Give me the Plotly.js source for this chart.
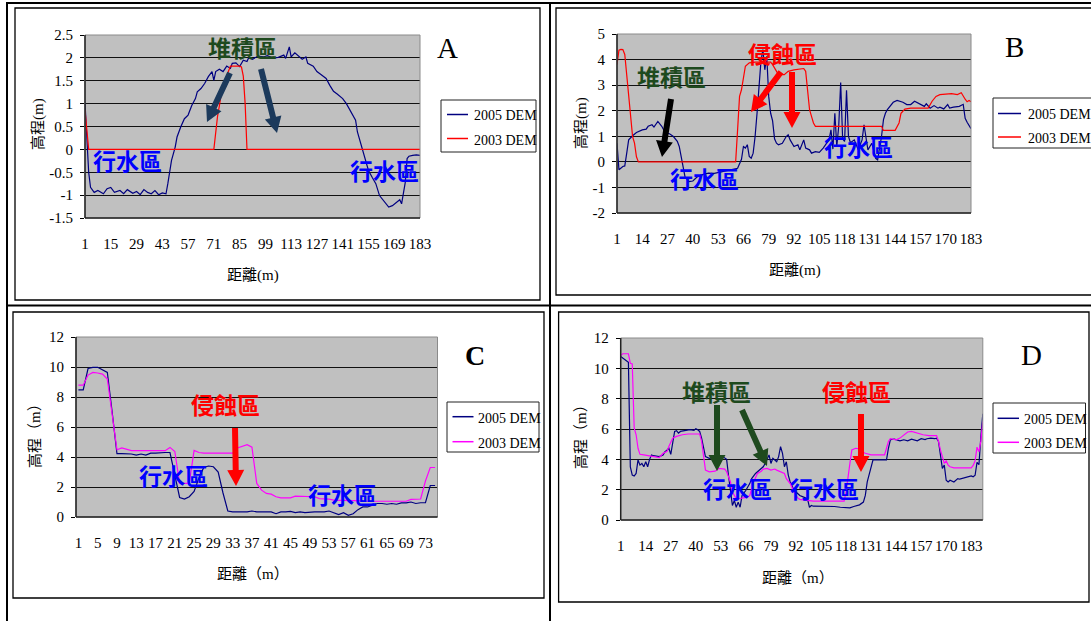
<!DOCTYPE html>
<html><head><meta charset="utf-8">
<script src="https://cdn.plot.ly/plotly-3.0.1.min.js"></script>
<style>html,body{margin:0;padding:0;background:#fff;}#chart{width:1091px;height:621px;}</style>
</head><body><div id="chart"></div>
<script>
// ---------- DATA ----------
const seriesNames = ["2005 DEM", "2003 DEM"];

// Panel A
const A_ticks = [1,15,29,43,57,71,85,99,113,127,141,155,169,183];
const A_yticks = [-1.5,-1,-0.5,0,0.5,1,1.5,2,2.5];
const A_x2005 = [1,2,3,4,6,8,11,13,15,17,20,22,24,27,29,31,33,35,37,39,41,43,45,46,47,48,50,51,53,55,57,59,61,62,64,66,68,70,71,72,74,76,78,80,81,83,85,87,89,90,92,95,98,100,103,106,109,110,112,113,115,117,119,121,122,125,127,129,132,134,136,138,141,143,145,148,149,151,153,155,157,159,161,163,166,168,171,172,173,175,176,177,179,181,183];
const A_y2005 = [1.02,0.3,-0.5,-0.83,-0.94,-0.9,-0.97,-0.86,-0.83,-0.94,-0.9,-0.97,-0.88,-0.96,-0.92,-0.99,-0.88,-0.94,-0.97,-0.9,-0.99,-0.95,-0.97,-0.75,-0.53,-0.24,0.05,0.27,0.49,0.67,0.75,0.96,1.11,1.26,1.33,1.44,1.59,1.70,1.51,1.70,1.75,1.70,1.82,1.77,1.88,1.89,1.81,1.95,1.92,2.01,1.97,2.04,2.02,2.05,2.0,2.01,2.06,1.99,2.24,2.02,2.11,2.04,1.97,2.02,1.88,1.82,1.70,1.64,1.55,1.40,1.27,1.21,1.11,1.0,0.86,0.64,0.38,0.09,-0.2,-0.46,-0.61,-0.75,-1.01,-1.12,-1.26,-1.23,-1.12,-1.1,-1.19,-0.72,-0.2,-0.15,-0.13,-0.12,-0.13];
const A_x2003 = [1,2,3,71,72,73,74,75,77,79,80,85,86,87,88,89,183];
const A_y2003 = [0.86,0.4,0,0,0.42,0.72,0.95,1.2,1.5,1.73,1.82,1.82,1.8,1.6,1.0,0,0];

// Panel B
const B_ticks = [1,14,27,40,53,66,79,92,105,118,131,144,157,170,183];
const B_yticks = [-2,-1,0,1,2,3,4,5];
const B_x2005 = [1,2,4,5,6,7,9,11,14,16,17,19,20,21,22,24,25,27,28,30,32,33,34,35,36,38,40,42,45,48,51,54,57,60,63,65,66,67,68,69,70,71,72,73,74,75,76,77,78,79,80,81,82,83,84,86,88,89,90,92,94,95,97,98,100,101,103,105,107,109,110,111,112,113,114,115,116,117,118,119,120,121,122,123,125,127,128,129,130,132,134,135,136,137,138,139,140,142,143,145,147,148,150,152,154,155,157,159,160,162,164,166,167,169,171,172,174,177,179,180,181,182,183];
const B_y2005 = [0.73,-0.31,-0.18,-0.16,0.34,0.86,1.02,1.15,1.25,1.28,1.39,1.45,1.36,1.45,1.58,1.39,1.25,1.12,1.1,0.99,0.8,0.6,0.21,-0.31,-0.6,-0.77,-0.75,-0.6,-0.5,-0.44,-0.45,-0.4,-0.35,-0.31,-0.25,0.1,0.6,0.54,0.67,0.21,0.14,0.34,0.99,1.9,3.08,3.93,4.39,3.6,4.13,2.56,1.9,1.6,0.9,0.73,0.67,0.73,0.99,1.06,0.86,0.6,0.67,0.47,0.86,0.54,0.47,0.34,0.4,0.37,0.54,0.73,0.86,1.25,0.5,1.9,0.6,1.4,3.1,0.9,0.8,2.8,1.0,0.75,0.8,0.86,0.47,0.86,1.45,0.86,0.47,0.73,0.14,0.08,0.47,0.99,1.65,1.9,2.04,2.24,2.33,2.4,2.37,2.33,2.24,2.24,2.37,2.33,2.24,2.17,2.27,2.1,2.2,2.1,2.14,2.07,2.24,2.1,2.14,2.17,2.25,1.7,1.55,1.4,1.3];
const B_x2003 = [1,2,3,4,5,6,7,8,9,10,11,12,62,63,64,65,66,67,69,72,76,80,81,82,84,87,89,92,94,97,98,99,100,101,102,103,137,138,144,146,147,149,152,161,163,165,167,170,173,176,178,180,181,182,183];
const B_y2003 = [3.8,4.37,4.4,4.39,4.2,3.35,2.82,1.9,1.0,0.73,0.2,0,0,1.25,2.56,2.82,3.35,3.74,3.87,3.9,3.9,3.9,3.8,3.67,3.41,3.41,3.54,3.6,3.63,3.65,3.54,2.82,2.04,1.78,1.52,1.39,1.39,1.23,1.23,1.52,1.9,2.06,2.1,2.1,2.37,2.56,2.63,2.65,2.67,2.63,2.7,2.45,2.35,2.4,2.35];

// Panel C
const C_ticks = [1,5,9,13,17,21,25,29,33,37,41,45,49,53,57,61,65,69,73];
const C_yticks = [0,2,4,6,8,10,12];
const C_cats = [1,2,3,4,5,6,7,8,9,10,11,12,13,14,15,16,17,18,19,20,21,22,23,24,25,26,27,28,29,30,31,32,33,34,35,36,37,38,39,40,41,42,43,44,45,46,47,48,49,50,51,52,53,54,55,56,57,58,59,60,61,62,63,64,65,66,67,68,69,70,71,72,73,74,75];
const C_y2005 = [8.47,8.47,9.9,9.98,9.98,9.82,9.64,7.0,4.22,4.22,4.22,4.2,4.13,4.2,4.13,4.26,4.26,4.3,4.3,4.3,2.8,1.3,1.19,1.35,1.7,2.6,3.3,3.4,3.35,3.0,1.6,0.4,0.34,0.34,0.29,0.34,0.4,0.34,0.34,0.34,0.34,0.22,0.34,0.34,0.38,0.29,0.34,0.29,0.34,0.34,0.34,0.34,0.4,0.27,0.16,0.29,0.11,0.22,0.49,0.67,0.67,0.78,0.9,0.9,0.85,0.9,0.85,0.94,0.94,1.0,0.9,0.95,0.95,2.1,2.1];
const C_y2003 = [8.79,8.79,9.46,9.64,9.6,9.53,9.2,6.8,4.48,4.6,4.53,4.42,4.42,4.42,4.42,4.42,4.42,4.42,4.42,4.64,4.37,2.24,2.24,2.24,4.44,4.3,4.26,4.26,4.26,4.26,4.26,4.26,4.26,4.6,4.7,4.82,4.66,2.24,1.79,1.57,1.52,1.35,1.28,1.28,1.28,1.39,1.39,1.39,1.39,1.35,1.23,1.23,1.19,1.12,1.12,1.12,1.12,1.08,1.08,1.08,1.05,1.05,1.03,1.0,1.0,1.0,1.0,1.0,1.05,1.17,1.17,1.2,2.4,3.3,3.3];

// Panel D
const D_ticks = [1,14,27,40,53,66,79,92,105,118,131,144,157,170,183];
const D_yticks = [0,2,4,6,8,10,12];
const D_x2005 = [1,3,4,5,6,7,8,9,10,11,12,13,14,15,16,17,18,21,23,24,25,26,27,28,29,30,31,32,34,36,37,39,40,41,42,43,44,45,47,49,50,52,54,56,57,58,59,60,61,62,63,64,66,68,69,71,73,75,76,78,79,80,82,83,84,85,86,87,88,89,91,93,94,96,98,99,100,101,105,108,112,115,119,120,122,125,127,128,129,130,131,132,134,137,139,140,141,143,145,146,148,150,152,153,155,157,159,160,162,164,165,166,167,168,169,170,171,172,174,176,177,179,181,183,184,185,186,187,188,189];
const D_y2005 = [10.78,10.56,10.47,10.4,3.5,2.96,2.9,3.07,3.96,3.62,3.73,3.51,3.84,3.51,4.0,4.29,4.24,4.18,4.29,4.51,4.6,4.73,4.33,5.0,5.84,5.89,5.73,5.84,5.89,5.93,5.96,5.91,6.02,5.95,5.84,5.4,4.8,4.18,4.07,4.11,4.02,4.07,4.18,4.0,2.9,1.84,0.96,1.29,0.84,1.18,0.84,1.62,1.96,2.4,2.73,3.07,3.29,3.51,3.73,4.29,3.73,4.07,3.84,4.18,4.84,4.4,3.51,3.84,2.96,2.51,1.96,1.73,1.62,1.51,1.4,0.84,0.96,0.91,0.91,0.89,0.89,0.84,0.84,0.8,0.89,1.0,1.18,1.62,2.51,2.96,3.4,3.96,3.96,3.96,3.96,4.73,5.29,5.33,5.29,5.22,5.29,5.22,5.33,5.29,5.22,5.36,5.3,5.36,5.4,5.36,5.4,5.18,4.29,3.4,3.62,2.62,2.51,2.62,2.51,2.73,2.69,2.78,2.84,2.91,2.85,2.95,3.8,3.65,5.5,7.0];
const D_x2003 = [1,2,4,5,6,7,8,9,10,11,13,16,18,21,23,25,26,27,28,30,33,36,39,42,43,44,45,47,50,52,55,56,58,59,61,62,64,67,68,70,72,74,75,77,79,81,82,84,86,87,89,91,93,94,98,101,110,117,118,119,120,121,123,125,126,128,131,134,138,139,140,141,144,146,148,150,152,153,156,158,161,164,165,166,167,169,170,171,172,174,177,181,183,184,185,186,187,188,189];
const D_y2003 = [10.84,10.96,10.96,10.96,10.33,10.29,6.07,5.62,4.73,4.33,4.29,4.24,4.18,4.11,4.4,4.51,4.84,5.13,5.4,5.51,5.62,5.67,5.67,5.67,5.18,4.07,3.29,3.18,3.22,3.4,3.36,3.18,2.51,1.84,1.4,1.4,1.44,1.51,1.62,2.51,3.07,3.22,3.36,3.4,3.29,3.36,3.29,3.18,3.07,2.73,2.4,1.84,1.44,1.36,1.29,1.24,1.24,1.24,1.84,2.96,3.73,4.62,4.73,4.69,4.51,4.4,4.29,4.29,4.29,4.73,5.18,5.36,5.29,5.4,5.62,5.8,5.84,5.8,5.73,5.62,5.56,5.56,5.56,5.18,4.62,3.73,3.9,3.62,3.51,3.44,3.44,3.44,3.44,3.6,3.9,4.8,4.5,5.2,6.5];

// ---------- STYLE / LAYOUT ----------
const W = 1091, H = 621;
const fx = x => x / W, fy = y => 1 - y / H;
const NAVY = "#000080", RED = "#ff0000", MAG = "#ff00ff";
const BLUE_TXT = "#0000ff", GREEN_TXT = "#1e4a1e", A_ARROW = "#1c3a5c";
const SERIF = "'Liberation Serif', 'Times New Roman', serif";
const CJK = "'Liberation Serif', 'Noto Sans CJK TC', serif";

function line(x, y, color, xa, ya, name) {
  return {type: "scatter", mode: "lines", x: x, y: y, name: name, xaxis: xa, yaxis: ya,
          line: {color: color, width: 1.2}, showlegend: false, hoverinfo: "skip"};
}
const traces = [
  line(A_x2005, A_y2005, NAVY, "x", "y", seriesNames[0]),
  line(A_x2003, A_y2003, RED, "x", "y", seriesNames[1]),
  line(B_x2005, B_y2005, NAVY, "x2", "y2", seriesNames[0]),
  line(B_x2003, B_y2003, RED, "x2", "y2", seriesNames[1]),
  line(C_cats, C_y2005, NAVY, "x3", "y3", seriesNames[0]),
  line(C_cats, C_y2003, MAG, "x3", "y3", seriesNames[1]),
  line(D_x2005, D_y2005, NAVY, "x4", "y4", seriesNames[0]),
  line(D_x2003, D_y2003, MAG, "x4", "y4", seriesNames[1])
];

const tickFont = {family: SERIF, size: 15, color: "#000"};
function xax(dom, range, ticks, anchor) {
  return {domain: [fx(dom[0]), fx(dom[1])], anchor: anchor, range: range, tickmode: "array",
          tickvals: ticks, ticktext: ticks.map(String), tickangle: 0, showgrid: false, zeroline: false,
          showline: false, ticks: "", tickfont: tickFont, ticklabelstandoff: 15, fixedrange: true};
}
function yax(dom, range, ticks, anchor) {
  return {domain: [fy(dom[1]), fy(dom[0])], anchor: anchor, range: range, tickmode: "array",
          tickvals: ticks, ticktext: ticks.map(String), showgrid: true, gridcolor: "#111", gridwidth: 1,
          zeroline: false, showline: false, ticks: "outside", ticklen: 4, tickcolor: "#000",
          tickfont: tickFont, ticklabelstandoff: 4, fixedrange: true};
}
// plot rectangles in pixels [left, right], [top, bottom]
const PA = {x: [85, 420], y: [35, 218]};
const PB = {x: [617, 971], y: [34, 213]};
const PC = {x: [76, 437.5], y: [337, 517]};
const PD = {x: [620.7, 982.8], y: [338, 520]};

const shapes = [];
function pline(x0, y0, x1, y1, color, w) {
  shapes.push({type: "line", xref: "paper", yref: "paper", x0: fx(x0), y0: fy(y0), x1: fx(x1), y1: fy(y1),
               line: {color: color, width: w}, layer: "above"});
}
function prect(x0, y0, x1, y1, color, w, fill) {
  shapes.push({type: "rect", xref: "paper", yref: "paper", x0: fx(x0), y0: fy(y0), x1: fx(x1), y1: fy(y1),
               line: {color: color, width: w}, fillcolor: fill || "rgba(0,0,0,0)", layer: "above"});
}
function arrow(x1, y1, x2, y2, color) {
  const sw = 6, hw = 17, hl = 16;
  const dx = x2 - x1, dy = y2 - y1, L = Math.hypot(dx, dy);
  const ux = dx / L, uy = dy / L, nx = -uy, ny = ux;
  const bx = x2 - ux * hl, by = y2 - uy * hl;
  const pts = [
    [x1 + nx * sw / 2, y1 + ny * sw / 2], [bx + nx * sw / 2, by + ny * sw / 2], [bx + nx * hw / 2, by + ny * hw / 2],
    [x2, y2], [bx - nx * hw / 2, by - ny * hw / 2], [bx - nx * sw / 2, by - ny * sw / 2], [x1 - nx * sw / 2, y1 - ny * sw / 2]
  ];
  const path = "M" + pts.map(p => fx(p[0]).toFixed(5) + "," + fy(p[1]).toFixed(5)).join(" L") + " Z";
  shapes.push({type: "path", xref: "paper", yref: "paper", path: path, fillcolor: color,
               line: {width: 0}, layer: "above"});
}

// table lines
pline(7, 3, 1091, 3, "#000", 2);
pline(7, 2, 7, 621, "#000", 2);
pline(550, 2, 550, 621, "#000", 2);
pline(7, 305.5, 1091, 305.5, "#000", 2);
// inner panel boxes
prect(15, 8, 540, 300, "#000", 1.3);
prect(556, 8, 1100, 295, "#000", 1.3);
prect(13, 312, 544, 598, "#000", 1.3);
prect(558.6, 312, 1089, 602, "#000", 1.3);
// plot frames
[PA, PB, PC, PD].forEach(p => {
  prect(p.x[0], p.y[0], p.x[1], p.y[1], "#8a8a8a", 1);
  pline(p.x[0], p.y[0], p.x[0], p.y[1], "#222", 1.5);
  pline(p.x[0], p.y[1], p.x[1], p.y[1], "#222", 1.5);
});

const annotations = [];
function txt(x, y, t, size, color, opts) {
  const o = Object.assign({xref: "paper", yref: "paper", x: fx(x), y: fy(y), text: t, showarrow: false,
          xanchor: "center", yanchor: "middle", font: {family: SERIF, size: size, color: color}}, opts || {});
  annotations.push(o);
}
function zone(x, y, t, color) {
  txt(x, y, t, 23, color, {font: {family: "'Noto Sans CJK TC', sans-serif", size: 23, color: color, weight: 700}});
}
// legends
function legend(box, y1, y2, lx0, lx1, tx, c1, c2) {
  prect(box[0], box[1], box[2], box[3], "#222", 1, "#ffffff");
  pline(lx0, y1, lx1, y1, c1, 1.5);
  pline(lx0, y2, lx1, y2, c2, 1.5);
  txt(tx, y1 + 1.5, seriesNames[0], 14, "#000", {xanchor: "left"});
  txt(tx, y2 + 1.5, seriesNames[1], 14, "#000", {xanchor: "left"});
}
legend([441, 100, 536, 152], 114.5, 138.5, 447, 468, 472, NAVY, RED);
legend([993, 98, 1100, 148], 113.5, 137, 998, 1021, 1026, NAVY, RED);
legend([447, 402, 539, 452], 416.7, 441.7, 452.5, 473.5, 476, NAVY, MAG);
legend([993, 403, 1085.5, 453], 418.3, 442.3, 997.6, 1019, 1022, NAVY, MAG);

// panel letters
txt(447, 48, "A", 29, "#000");
txt(1014, 47, "B", 29, "#000");
txt(475, 355, "<b>C</b>", 28, "#000");
txt(1031, 355, "D", 29, "#000");

// axis titles
const tf = {family: CJK, size: 15, color: "#000"};
txt(253, 275, "距離(m)", 15, "#000", {font: tf});
txt(795, 270, "距離(m)", 15, "#000", {font: tf});
txt(253, 573, "距離（m）", 15, "#000", {font: tf});
txt(798, 577, "距離（m）", 15, "#000", {font: tf});
txt(38, 124, "高程(m)", 15, "#000", {textangle: -90, font: tf});
txt(581, 123, "高程(m)", 15, "#000", {textangle: -90, font: tf});
txt(35, 432, "高程（m）", 15, "#000", {textangle: -90, font: tf});
txt(581, 433, "高程（m）", 15, "#000", {textangle: -90, font: tf});

// zone labels
zone(242, 47, "堆積區", GREEN_TXT);
zone(127, 160, "行水區", BLUE_TXT);
zone(384, 170, "行水區", BLUE_TXT);
zone(671, 76, "堆積區", GREEN_TXT);
zone(782, 53, "侵蝕區", RED);
zone(704, 178, "行水區", BLUE_TXT);
zone(858, 146, "行水區", BLUE_TXT);
zone(225, 404, "侵蝕區", RED);
zone(173, 475, "行水區", BLUE_TXT);
zone(342, 494, "行水區", BLUE_TXT);
zone(716, 391, "堆積區", GREEN_TXT);
zone(856, 391, "侵蝕區", RED);
zone(737, 488, "行水區", BLUE_TXT);
zone(824, 488, "行水區", BLUE_TXT);

// arrows
arrow(230, 73, 207, 122, A_ARROW);
arrow(261, 69, 277, 133, A_ARROW);
arrow(671, 99, 662, 157, "#000");
arrow(781, 72, 751, 112, RED);
arrow(792, 72, 792, 128, RED);
arrow(235, 428, 236, 486, RED);
arrow(717, 405, 717, 471, GREEN_TXT);
arrow(742, 410, 767, 466, GREEN_TXT);
arrow(861, 414, 861, 472, RED);

const layout = {
  width: W, height: H, margin: {l: 0, r: 0, t: 0, b: 0},
  paper_bgcolor: "#ffffff", plot_bgcolor: "#c0c0c0", showlegend: false,
  xaxis: xax(PA.x, [1, 183], A_ticks, "y"),
  yaxis: yax(PA.y, [-1.5, 2.5], A_yticks, "x"),
  xaxis2: xax(PB.x, [1, 183], B_ticks, "y2"),
  yaxis2: yax(PB.y, [-2, 5], B_yticks, "x2"),
  xaxis3: xax(PC.x, [0.5, 75.5], C_ticks, "y3"),
  yaxis3: yax(PC.y, [0, 12], C_yticks, "x3"),
  xaxis4: xax(PD.x, [1, 189], D_ticks, "y4"),
  yaxis4: yax(PD.y, [0, 12], D_yticks, "x4"),
  shapes: shapes, annotations: annotations
};
Plotly.newPlot("chart", traces, layout, {staticPlot: true, displayModeBar: false});
</script></body></html>
